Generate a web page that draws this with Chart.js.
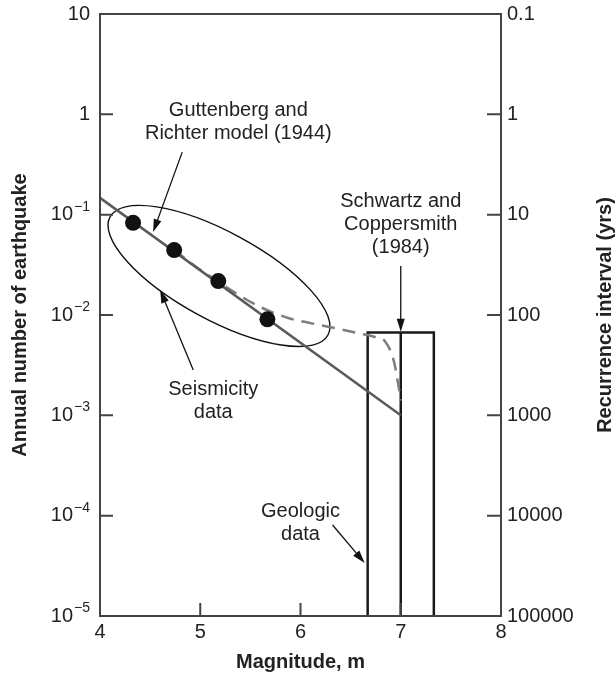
<!DOCTYPE html>
<html lang="en">
<head>
  <meta charset="UTF-8">
  <title>Magnitude - recurrence</title>
  <script src="https://cdn.jsdelivr.net/npm/chart.js"></script>
  <style>
    html, body { margin: 0; padding: 0; background: #fff; }
    #wrap { width: 616px; height: 677px; }
  </style>
</head>
<body>
  <div id="wrap"><canvas id="chart"></canvas></div>

  <script>
    // seismicity data (magnitude / annual number)
    const seisMag = [4.33, 4.74, 5.18, 5.67];
    const seisRate = [0.083, 0.0444, 0.0218, 0.00906];

    // Guttenberg-Richter model line
    const grMag = [4, 7];
    const grRate = [0.147, 0.001];

    // dashed characteristic curve
    const charMag = [4.74, 5.0, 5.18, 5.27, 5.57, 5.87, 6.1, 6.4, 6.57, 6.75, 6.84, 6.93, 6.98, 7.0];
    const charRate = [0.0444, 0.0282, 0.0215, 0.0187, 0.0124, 0.0094, 0.0083, 0.0072, 0.0066, 0.006, 0.0055, 0.0035, 0.0019, 0.0014];

    // geologic data boxes
    const boxEdges = [6.67, 7.0, 7.33];
    const boxRate = 0.0067;

    // ticks
    const xTicks = [4, 5, 6, 7, 8];
    const xLabels = ['4', '5', '6', '7', '8'];
    const yTicks = [10, 1, 0.1, 0.01, 0.001, 0.0001, 0.00001];
    const yLabels = ['10', '1', '10', '10', '10', '10', '10'];
    const yExps = ['', '', '−1', '−2', '−3', '−4', '−5'];
    const y2Labels = ['0.1', '1', '10', '100', '1000', '10000', '100000'];

    const yMin = 0.00001, yMax = 10;
    const FONT = '"Liberation Sans", Arial, Helvetica, sans-serif';
    const INK = '#222';

    // annotations, anchored in data coordinates
    const notes = [
      { lines: ['Guttenberg and', 'Richter model (1944)'], x: 5.38, y: 1.1 },
      { lines: ['Schwartz and', 'Coppersmith', '(1984)'], x: 7.0, y: 0.134 },
      { lines: ['Seismicity', 'data'], x: 5.13, y: 0.00179 },
      { lines: ['Geologic', 'data'], x: 6.0, y: 0.000109 }
    ];
    const arrows = [
      { from: [4.82, 0.42], to: [4.53, 0.067] },
      { from: [7.0, 0.0308], to: [7.0, 0.0068] },
      { from: [4.93, 0.00283], to: [4.60, 0.0177] },
      { from: [6.32, 0.0000807], to: [6.64, 0.0000337] }
    ];
    const ellipse = { center: [5.187, 0.0245], tip: [6.274, 0.00632], ratio: 0.355 };

    const pts = (xs, ys) => xs.map((x, i) => ({ x: x, y: ys[i] }));
    const boxOutline = [
      { x: boxEdges[0], y: yMin }, { x: boxEdges[0], y: boxRate },
      { x: boxEdges[2], y: boxRate }, { x: boxEdges[2], y: yMin }
    ];
    const boxMiddle = [{ x: boxEdges[1], y: yMin }, { x: boxEdges[1], y: boxRate }];

    const decor = {
      id: 'decor',
      beforeDatasetsDraw(chart) {
        const { ctx, scales: { x, y } } = chart;
        const cx = x.getPixelForValue(ellipse.center[0]), cy = y.getPixelForValue(ellipse.center[1]);
        const tx = x.getPixelForValue(ellipse.tip[0]), ty = y.getPixelForValue(ellipse.tip[1]);
        const a = Math.hypot(tx - cx, ty - cy);
        ctx.save();
        ctx.strokeStyle = '#111';
        ctx.lineWidth = 1.4;
        ctx.beginPath();
        ctx.ellipse(cx, cy, a, a * ellipse.ratio, Math.atan2(ty - cy, tx - cx), 0, Math.PI * 2);
        ctx.stroke();
        ctx.restore();
      },
      afterDraw(chart) {
        const { ctx, chartArea: ca, scales: { x, y } } = chart;
        ctx.save();
        // frame
        ctx.strokeStyle = '#444';
        ctx.lineWidth = 2;
        ctx.strokeRect(ca.left, ca.top, ca.right - ca.left, ca.bottom - ca.top);
        // inward ticks
        ctx.beginPath();
        yTicks.slice(1, -1).forEach(v => {
          const py = y.getPixelForValue(v);
          ctx.moveTo(ca.left, py); ctx.lineTo(ca.left + 13, py);
          ctx.moveTo(ca.right - 14, py); ctx.lineTo(ca.right, py);
        });
        xTicks.slice(1, -1).forEach(v => {
          const px = x.getPixelForValue(v);
          ctx.moveTo(px, ca.bottom); ctx.lineTo(px, ca.bottom - 13);
        });
        ctx.stroke();

        // left tick labels with superscript exponents
        ctx.fillStyle = INK;
        ctx.textBaseline = 'middle';
        ctx.textAlign = 'left';
        yTicks.forEach((v, i) => {
          const py = y.getPixelForValue(v);
          ctx.font = '20px ' + FONT;
          const wb = ctx.measureText(yLabels[i]).width;
          ctx.font = '14px ' + FONT;
          const we = yExps[i] ? ctx.measureText(yExps[i]).width + 1 : 0;
          const x0 = ca.left - 10 - wb - we;
          ctx.font = '20px ' + FONT;
          ctx.fillText(yLabels[i], x0, py);
          if (yExps[i]) {
            ctx.font = '14px ' + FONT;
            ctx.fillText(yExps[i], x0 + wb + 1, py - 8);
          }
        });

        // arrows
        ctx.strokeStyle = '#111';
        ctx.fillStyle = '#111';
        ctx.lineWidth = 1.3;
        arrows.forEach(ar => {
          const x1 = x.getPixelForValue(ar.from[0]), y1 = y.getPixelForValue(ar.from[1]);
          const x2 = x.getPixelForValue(ar.to[0]), y2 = y.getPixelForValue(ar.to[1]);
          const ang = Math.atan2(y2 - y1, x2 - x1);
          ctx.beginPath();
          ctx.moveTo(x1, y1);
          ctx.lineTo(x2 - 8 * Math.cos(ang), y2 - 8 * Math.sin(ang));
          ctx.stroke();
          ctx.beginPath();
          ctx.moveTo(x2, y2);
          ctx.lineTo(x2 - 13 * Math.cos(ang) + 4 * Math.sin(ang), y2 - 13 * Math.sin(ang) - 4 * Math.cos(ang));
          ctx.lineTo(x2 - 13 * Math.cos(ang) - 4 * Math.sin(ang), y2 - 13 * Math.sin(ang) + 4 * Math.cos(ang));
          ctx.closePath();
          ctx.fill();
        });

        // notes
        ctx.fillStyle = INK;
        ctx.font = '20px ' + FONT;
        ctx.textAlign = 'center';
        ctx.textBaseline = 'middle';
        notes.forEach(n => {
          const px = x.getPixelForValue(n.x), py = y.getPixelForValue(n.y);
          n.lines.forEach((t, i) => ctx.fillText(t, px, py + i * 23));
        });

        // right axis title, reading upward like the left one
        ctx.font = 'bold 20px ' + FONT;
        ctx.translate(605, (ca.top + ca.bottom) / 2);
        ctx.rotate(-Math.PI / 2);
        ctx.fillText('Recurrence interval (yrs)', 0, 0);
        ctx.restore();
      }
    };

    const tickFont = { family: FONT, size: 20 };
    const titleFont = { family: FONT, size: 20, weight: 'bold' };

    new Chart(document.getElementById('chart'), {
      type: 'scatter',
      data: {
        datasets: [
          {
            label: 'Seismicity data',
            data: pts(seisMag, seisRate),
            pointRadius: 8,
            backgroundColor: '#111',
            borderWidth: 0
          },
          {
            label: 'Guttenberg and Richter',
            data: pts(grMag, grRate),
            showLine: true,
            pointRadius: 0,
            borderColor: '#5a5a5a',
            borderWidth: 2.5
          },
          {
            label: 'Characteristic',
            data: pts(charMag, charRate),
            showLine: true,
            pointRadius: 0,
            borderColor: '#7d7d7d',
            borderWidth: 2.5,
            borderDash: [13, 8],
            cubicInterpolationMode: 'monotone'
          },
          {
            label: 'Geologic',
            data: boxOutline,
            showLine: true,
            pointRadius: 0,
            borderColor: '#1a1a1a',
            borderWidth: 2.5
          },
          {
            label: 'Geologic mid',
            data: boxMiddle,
            showLine: true,
            pointRadius: 0,
            borderColor: '#1a1a1a',
            borderWidth: 2.5
          }
        ]
      },
      options: {
        responsive: true,
        maintainAspectRatio: false,
        animation: false,
        layout: { padding: { top: 14, left: 0, right: 0, bottom: 0 } },
        plugins: { legend: { display: false }, tooltip: { enabled: false } },
        scales: {
          x: {
            type: 'linear',
            min: 4, max: 8,
            afterBuildTicks: s => { s.ticks = xTicks.map(v => ({ value: v })); },
            afterFit: s => { s.height = 61; s.paddingLeft = 0; s.paddingRight = 0; },
            ticks: { callback: (v, i) => xLabels[i], font: tickFont, color: INK, padding: 4, maxRotation: 0 },
            grid: { display: false, drawTicks: false },
            border: { display: false },
            title: { display: true, text: 'Magnitude, m', font: titleFont, color: INK, padding: { top: 0, bottom: 3 } }
          },
          y: {
            type: 'logarithmic',
            position: 'left',
            min: yMin, max: yMax,
            afterBuildTicks: s => { s.ticks = yTicks.map(v => ({ value: v })); },
            afterFit: s => { s.width = 100; s.paddingTop = 0; s.paddingBottom = 0; },
            ticks: { display: false },
            grid: { display: false, drawTicks: false },
            border: { display: false },
            title: { display: true, text: 'Annual number of earthquake', font: titleFont, color: INK, padding: { top: 8, bottom: 0 } }
          },
          y2: {
            type: 'logarithmic',
            position: 'right',
            min: yMin, max: yMax,
            afterBuildTicks: s => { s.ticks = yTicks.map(v => ({ value: v })); },
            afterFit: s => { s.width = 115; s.paddingTop = 0; s.paddingBottom = 0; },
            ticks: { callback: (v, i) => y2Labels[i], font: tickFont, color: INK, padding: 6 },
            grid: { display: false, drawTicks: false },
            border: { display: false }
          }
        }
      },
      plugins: [decor]
    });
  </script>
</body>
</html>
